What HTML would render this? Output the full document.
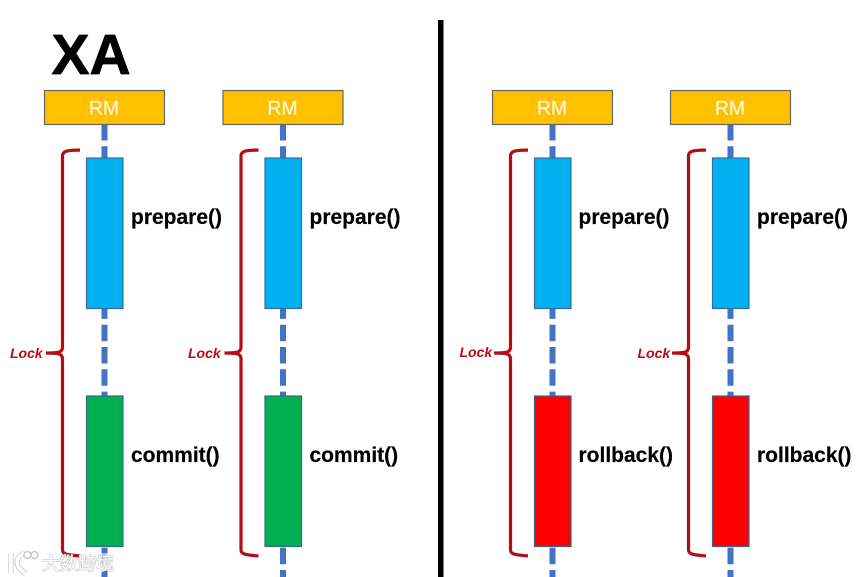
<!DOCTYPE html>
<html>
<head>
<meta charset="utf-8">
<style>
html,body{margin:0;padding:0;background:#fff;width:864px;height:577px;overflow:hidden}
svg{display:block;filter:blur(0.35px)}
text{font-family:"Liberation Sans",Arial,sans-serif}
.rm{font-size:19.5px;fill:#fff6dc;text-anchor:middle;stroke:#fff6dc;stroke-width:0.25}
.op{font-size:21px;font-weight:bold;fill:#000;stroke:#000;stroke-width:0.2}
.lock{font-size:14px;font-weight:bold;font-style:italic;fill:#b80c14}
</style>
</head>
<body>
<svg width="864" height="577" viewBox="0 0 864 577" xmlns="http://www.w3.org/2000/svg">
<defs>
<g id="lane">
  <line x1="104.5" y1="124" x2="104.5" y2="577" stroke="#4472c4" stroke-width="6" stroke-dasharray="16.5 5.8"/>
  <rect x="44.5" y="90.5" width="120" height="34" fill="#ffc000" stroke="#666666" stroke-width="1.2"/>
  <text class="rm" x="104" y="114.5">RM</text>
  <rect x="86.5" y="158" width="36.5" height="150.5" fill="#00b0f0" stroke="#3a6d9f" stroke-width="1.2"/>
  <path d="M80 150 C70 150.5 62.5 150 62.5 156 L62.5 347 C62.5 352 60 353 46 353 C60 353 62.5 354 62.5 359 L62.5 550 C62.5 555 70 555 80 556" fill="none" stroke="#b80c14" stroke-width="3.2"/>
</g>
</defs>

<text x="51.5" y="74" font-size="57" font-weight="bold" fill="#000" stroke="#000" stroke-width="0.7" stroke-linejoin="round">XA</text>
<rect x="438" y="20" width="5.5" height="557" fill="#000"/>

<use href="#lane"/>
<use href="#lane" x="178.5"/>
<use href="#lane" x="448"/>
<use href="#lane" x="626"/>

<!-- lower activation boxes -->
<rect x="86.5" y="396" width="36.5" height="150.5" fill="#00b050" stroke="#2f6f80" stroke-width="1.2"/>
<rect x="265" y="396" width="36.5" height="150.5" fill="#00b050" stroke="#2f6f80" stroke-width="1.2"/>
<rect x="534.5" y="396" width="36.5" height="150.5" fill="#ff0000" stroke="#3f5f8f" stroke-width="1.2"/>
<rect x="712.5" y="396" width="36.5" height="150.5" fill="#ff0000" stroke="#3f5f8f" stroke-width="1.2"/>

<!-- labels -->
<text class="op" x="131" y="224">prepare()</text>
<text class="op" x="309.5" y="224">prepare()</text>
<text class="op" x="578.5" y="224">prepare()</text>
<text class="op" x="757" y="224">prepare()</text>
<text class="op" x="131" y="462">commit()</text>
<text class="op" x="309.5" y="462">commit()</text>
<text class="op" x="578.5" y="462">rollback()</text>
<text class="op" x="757" y="462">rollback()</text>

<text class="lock" x="10" y="358">Lock</text>
<text class="lock" x="188" y="358">Lock</text>
<text class="lock" x="459.5" y="357">Lock</text>
<text class="lock" x="637.5" y="358">Lock</text>

<!-- watermark -->
<g>
  <rect x="100" y="553" width="10" height="18" fill="#fff" opacity="0.55"/>
  <path d="M11 553 L11 573 M24 553 C15 558 14 566 26 574" fill="none" stroke="#d0d0d0" stroke-width="5.5"/>
  <path d="M11 553 L11 573 M24 553 C15 558 14 566 26 574" fill="none" stroke="#ffffff" stroke-width="3.5"/>
  <circle cx="27.5" cy="555" r="3.5" fill="#fff" stroke="#cccccc" stroke-width="1.6"/>
  <circle cx="34.5" cy="555" r="3.5" fill="#fff" stroke="#cccccc" stroke-width="1.6"/>
  <text x="42" y="570" font-size="18" fill="#ffffff" stroke="#c8c8c8" stroke-width="1.2" paint-order="stroke" style="font-family:'Liberation Sans','Noto Sans CJK SC',sans-serif">大数跨境</text>
</g>
</svg>
</body>
</html>
